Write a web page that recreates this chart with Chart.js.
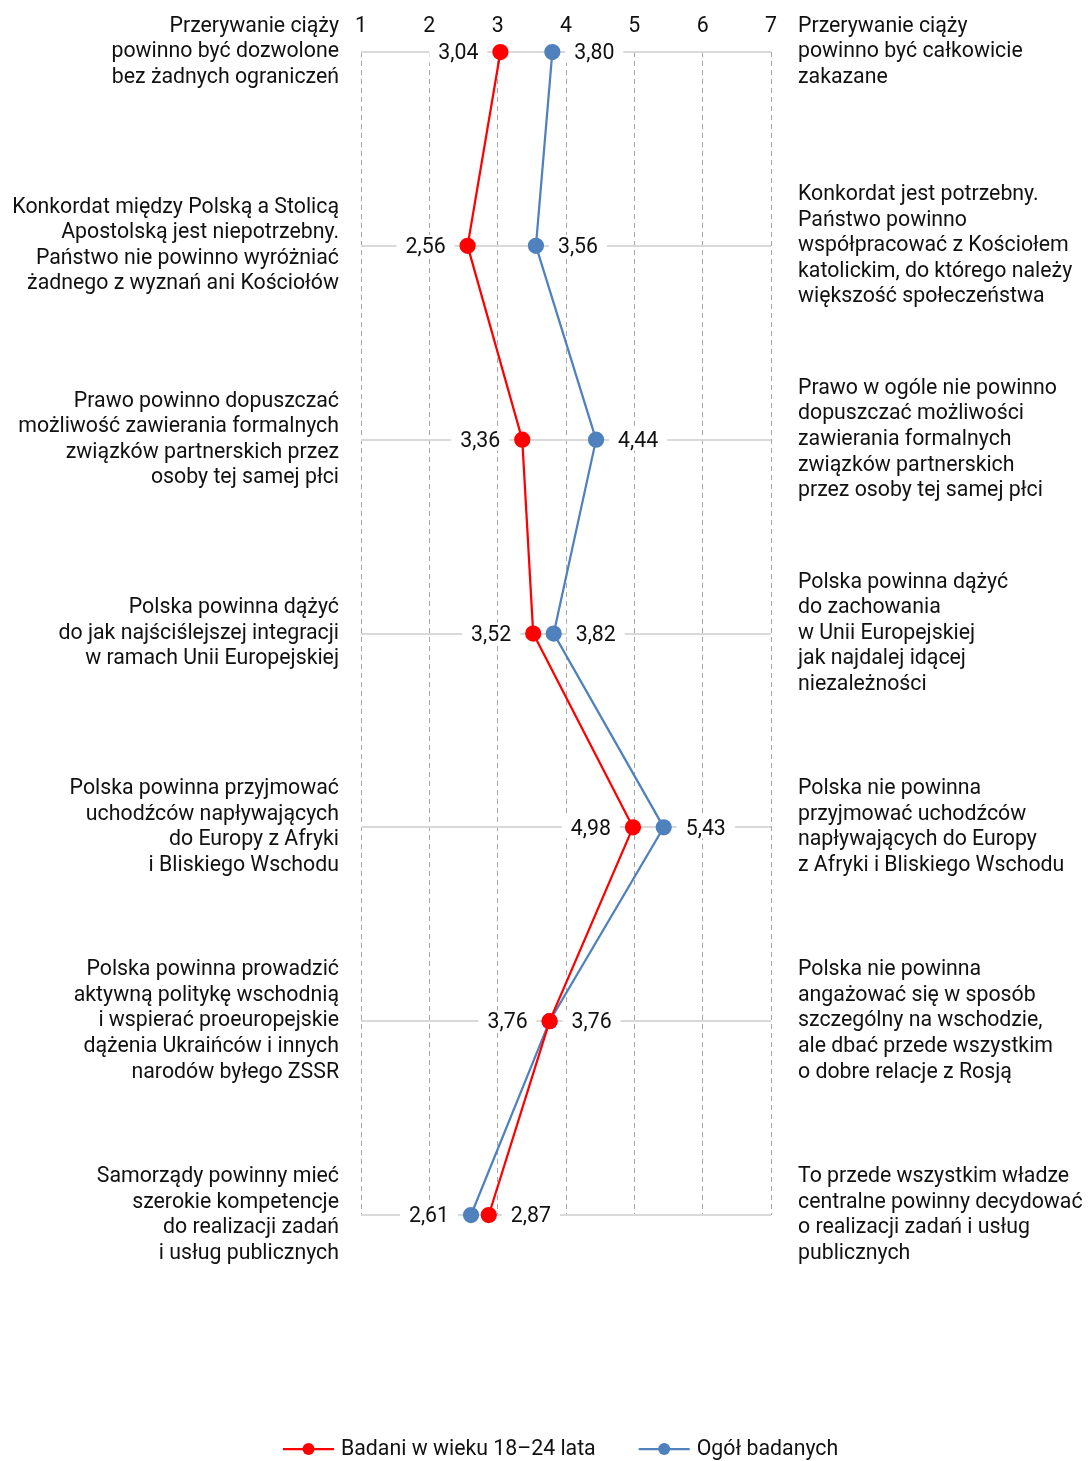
<!DOCTYPE html>
<html>
<head>
<meta charset="utf-8">
<script src="https://cdn.jsdelivr.net/npm/chart.js@4"></script>
<style>
  html, body { margin: 0; padding: 0; background: #fff; }
  #wrap { width: 1089px; height: 1461px; }
</style>
</head>
<body>
<div id="wrap"><canvas id="chart"></canvas></div>
<script>
// etykiety po lewej stronie (pierwsze stanowisko)
const leftLabels = [
  ['Przerywanie ciąży', 'powinno być dozwolone', 'bez żadnych ograniczeń'],
  ['Konkordat między Polską a Stolicą', 'Apostolską jest niepotrzebny.', 'Państwo nie powinno wyróżniać', 'żadnego z wyznań ani Kościołów'],
  ['Prawo powinno dopuszczać', 'możliwość zawierania formalnych', 'związków partnerskich przez', 'osoby tej samej płci'],
  ['Polska powinna dążyć', 'do jak najściślejszej integracji', 'w ramach Unii Europejskiej'],
  ['Polska powinna przyjmować', 'uchodźców napływających', 'do Europy z Afryki', 'i Bliskiego Wschodu'],
  ['Polska powinna prowadzić', 'aktywną politykę wschodnią', 'i wspierać proeuropejskie', 'dążenia Ukraińców i innych', 'narodów byłego ZSSR'],
  ['Samorządy powinny mieć', 'szerokie kompetencje', 'do realizacji zadań', 'i usług publicznych']
];

// etykiety po prawej stronie (drugie stanowisko)
const rightLabels = [
  ['Przerywanie ciąży', 'powinno być całkowicie', 'zakazane'],
  ['Konkordat jest potrzebny.', 'Państwo powinno', 'współpracować z Kościołem', 'katolickim, do którego należy', 'większość społeczeństwa'],
  ['Prawo w ogóle nie powinno', 'dopuszczać możliwości', 'zawierania formalnych', 'związków partnerskich', 'przez osoby tej samej płci'],
  ['Polska powinna dążyć', 'do zachowania', 'w Unii Europejskiej', 'jak najdalej idącej', 'niezależności'],
  ['Polska nie powinna', 'przyjmować uchodźców', 'napływających do Europy', 'z Afryki i Bliskiego Wschodu'],
  ['Polska nie powinna', 'angażować się w sposób', 'szczególny na wschodzie,', 'ale dbać przede wszystkim', 'o dobre relacje z Rosją'],
  ['To przede wszystkim władze', 'centralne powinny decydować', 'o realizacji zadań i usług', 'publicznych']
];

const scaleTicks = [1, 2, 3, 4, 5, 6, 7];

const youngLabel = 'Badani w wieku 18–24 lata';
const youngValues = [3.04, 2.56, 3.36, 3.52, 4.98, 3.76, 2.87];

const allLabel = 'Ogół badanych';
const allValues = [3.80, 3.56, 4.44, 3.82, 5.43, 3.76, 2.61];

const FONT = 'Roboto';
const FSIZE = 21.3;
const TEXT = '#111';

function fmt(v) {
  return v.toFixed(2).replace('.', ',');
}

// podpisy wartości z białym tłem – mniejsza wartość po lewej, większa po prawej
const valueLabels = {
  id: 'valueLabels',
  beforeDatasetsDraw(chart) {
    const ctx = chart.ctx;
    const ds = chart.data.datasets;
    ctx.save();
    ctx.font = FSIZE + 'px ' + FONT;
    ctx.textBaseline = 'middle';
    for (let i = 0; i < chart.data.labels.length; i++) {
      const a = ds[0].data[i], b = ds[1].data[i];
      const sides = a <= b ? ['left', 'right'] : ['right', 'left'];
      [0, 1].forEach(d => {
        const pt = chart.getDatasetMeta(d).data[i];
        const txt = fmt(ds[d].data[i]);
        const w = ctx.measureText(txt).width;
        const left = sides[d] === 'left';
        const tx = left ? pt.x - 22 - w : pt.x + 22;
        ctx.fillStyle = '#fff';
        ctx.fillRect(tx - 9, pt.y - 11, w + 18, 22);
        ctx.fillStyle = TEXT;
        ctx.textAlign = 'left';
        ctx.fillText(txt, tx, pt.y + 2);
      });
    }
    ctx.restore();
  }
};

// legenda: linia z punktem + opis
const lineLegend = {
  id: 'lineLegend',
  afterDraw(chart) {
    const ctx = chart.ctx;
    const y = 1449;
    let x = 283;
    ctx.save();
    ctx.font = FSIZE + 'px ' + FONT;
    ctx.textBaseline = 'middle';
    ctx.textAlign = 'left';
    chart.data.datasets.forEach(d => {
      ctx.strokeStyle = d.borderColor;
      ctx.lineWidth = 2.25;
      ctx.beginPath();
      ctx.moveTo(x, y);
      ctx.lineTo(x + 51, y);
      ctx.stroke();
      ctx.fillStyle = d.borderColor;
      ctx.beginPath();
      ctx.arc(x + 25.5, y, 6, 0, Math.PI * 2);
      ctx.fill();
      ctx.fillStyle = TEXT;
      ctx.fillText(d.label, x + 58, y + 1);
      x += 58 + ctx.measureText(d.label).width + 43;
    });
    ctx.restore();
  }
};

Chart.defaults.font.family = FONT;
Chart.defaults.font.size = FSIZE;
Chart.defaults.color = TEXT;

new Chart(document.getElementById('chart'), {
  type: 'line',
  data: {
    labels: leftLabels,
    datasets: [
      {
        label: youngLabel,
        data: youngValues,
        borderColor: '#ff0000',
        backgroundColor: '#ff0000',
        borderWidth: 2.25,
        pointRadius: 7,
        pointHoverRadius: 7,
        tension: 0
      },
      {
        label: allLabel,
        data: allValues,
        borderColor: '#4f81bd',
        backgroundColor: '#4f81bd',
        borderWidth: 2.25,
        pointRadius: 7,
        pointHoverRadius: 7,
        tension: 0
      }
    ]
  },
  options: {
    indexAxis: 'y',
    responsive: true,
    maintainAspectRatio: false,
    animation: false,
    layout: { padding: { top: 0, left: 0, right: 0, bottom: 246 } },
    plugins: {
      legend: { display: false },
      tooltip: { enabled: false }
    },
    scales: {
      x: {
        type: 'linear',
        position: 'top',
        min: scaleTicks[0],
        max: scaleTicks[scaleTicks.length - 1],
        afterBuildTicks(scale) {
          scale.ticks = scaleTicks.map(v => ({ value: v }));
        },
        afterFit(scale) {
          scale.height = 52;
          scale.paddingLeft = 0;
          scale.paddingRight = 0;
        },
        ticks: { padding: 13, font: { size: FSIZE, lineHeight: 1.2 }, color: TEXT },
        grid: {
          drawTicks: false,
          color: '#a6a6a6',
          lineWidth: 1,
          tickBorderDash: [5, 4]
        },
        border: { display: false, dash: [5, 4] }
      },
      y: {
        type: 'category',
        position: 'left',
        offset: false,
        afterFit(scale) {
          scale.width = 361;
          scale.paddingTop = 0;
          scale.paddingBottom = 0;
        },
        ticks: { padding: 22, font: { size: FSIZE, lineHeight: 1.2 }, color: TEXT },
        grid: { drawTicks: false, color: '#d9d9d9', lineWidth: 2 },
        border: { display: false }
      },
      y2: {
        type: 'category',
        position: 'right',
        labels: rightLabels,
        offset: false,
        afterFit(scale) {
          scale.width = 1089 - 771;
          scale.paddingTop = 0;
          scale.paddingBottom = 0;
        },
        ticks: { padding: 27, font: { size: FSIZE, lineHeight: 1.2 }, color: TEXT },
        grid: { display: false, drawTicks: false },
        border: { display: false }
      }
    }
  },
  plugins: [valueLabels, lineLegend]
});
</script>
</body>
</html>
